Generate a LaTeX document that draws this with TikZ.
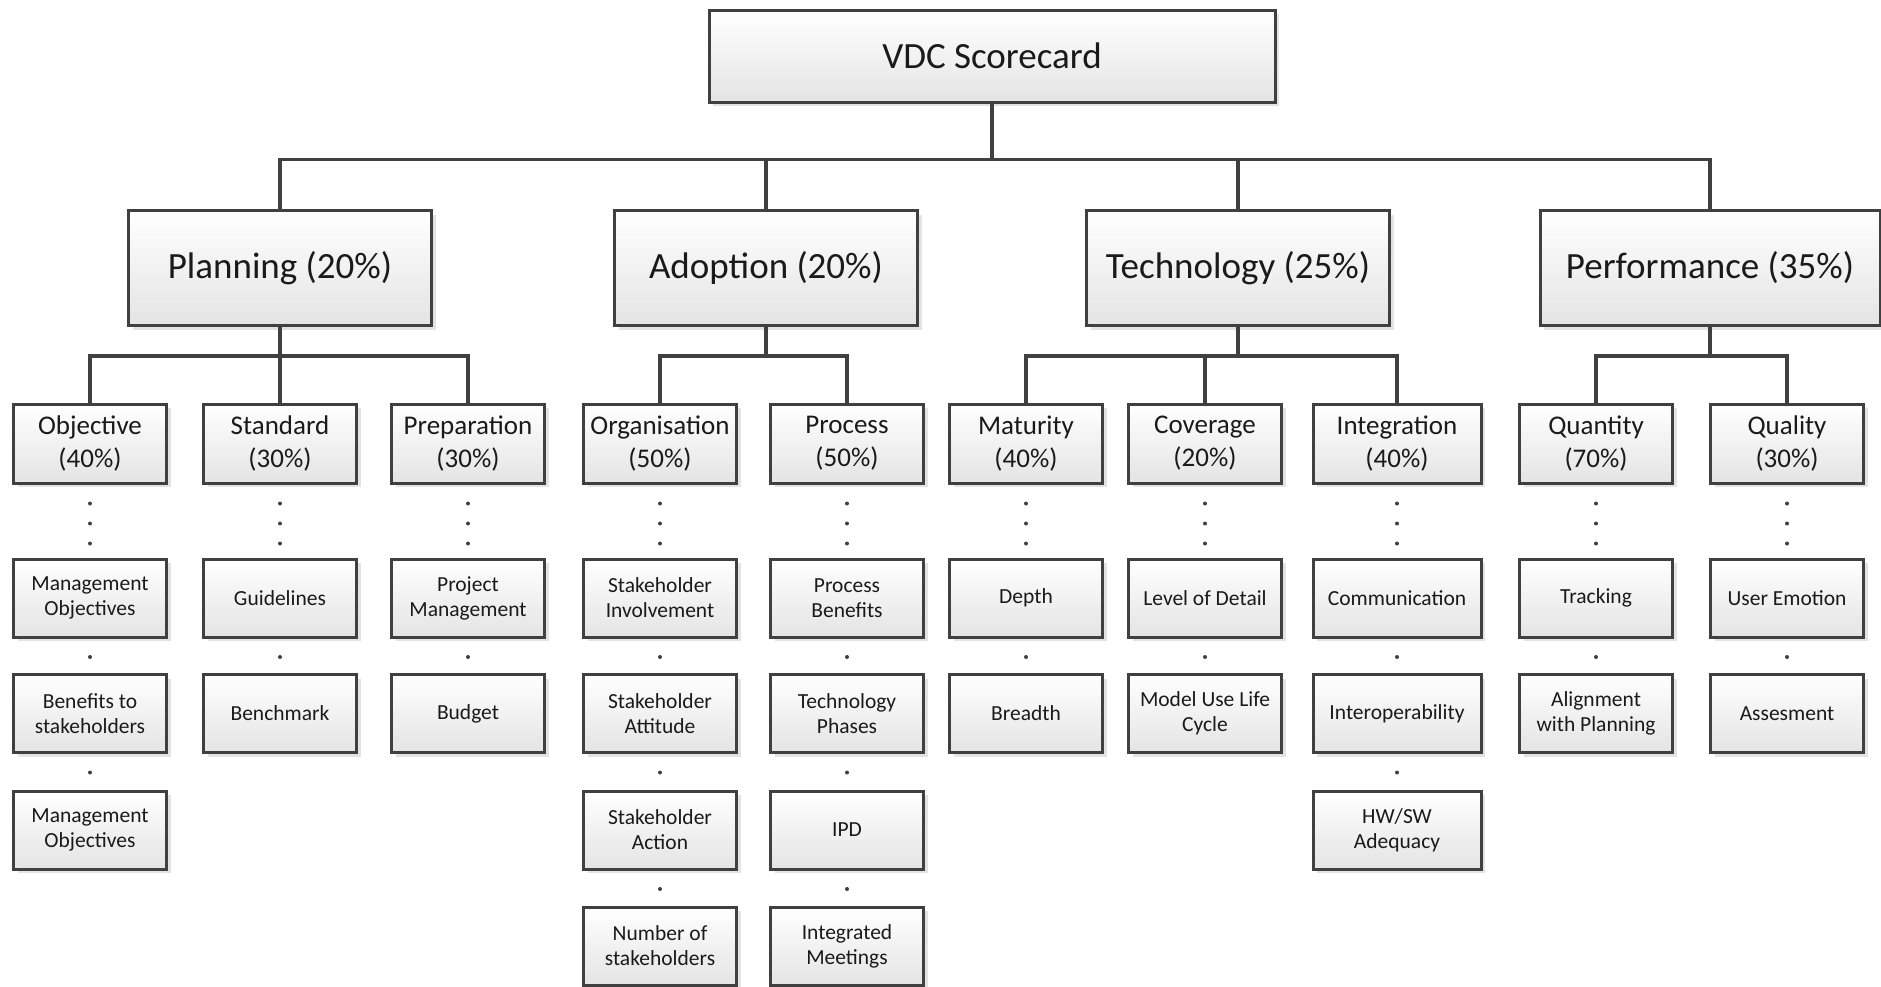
\documentclass[tikz,border=0pt]{standalone}
\usepackage{fontspec}
\setmainfont{Carlito}
\usetikzlibrary{shadows}
\definecolor{edge}{HTML}{404040}
\definecolor{ink}{HTML}{1A1A1A}
\definecolor{boxlow}{HTML}{E4E4E4}
\begin{document}
\begin{tikzpicture}[x=1pt,y=-1pt,
  box/.style={draw=edge, line width=3pt, top color=white, bottom color=boxlow,
    text=ink, align=center, inner sep=0pt,
    drop shadow={shadow xshift=4pt, shadow yshift=-4pt, fill=black!18, opacity=0.6}},
  topbox/.style={box, minimum width=566pt, minimum height=92pt, font=\fontsize{37}{42}\selectfont},
  catbox/.style={box, minimum width=303pt, minimum height=115pt, font=\fontsize{37}{42}\selectfont},
  subbox/.style={box, minimum width=153pt, minimum height=79pt, font=\fontsize{27}{33}\selectfont},
  itembox/.style={box, minimum width=153pt, minimum height=78pt, font=\fontsize{21.5}{25}\selectfont},
  conn/.style={draw=edge, line width=3.5pt},
  threedots/.style={draw=edge, line width=4pt, line cap=round, dash pattern=on 0pt off 20pt, dash phase=1pt},
  onedot/.style={draw=edge, line width=4pt, line cap=round, dash pattern=on 0pt off 100pt, dash phase=81.5pt}]
\useasboundingbox (0,0) rectangle (1881,986);

% root
\node[topbox] (root) at (992,56) {VDC Scorecard};

% categories
\node[catbox] (plan) at (280,268) {Planning (20\%)};
\node[catbox] (adop) at (766,268) {Adoption (20\%)};
\node[catbox] (tech) at (1238,268) {Technology (25\%)};
\node[catbox, minimum width=340pt] (perf) at (1710,268) {Performance (35\%)};

% sub-criteria
\node[subbox] (obj)  at (90,443.5)   {Objective\\(40\%)};
\node[subbox] (std)  at (280,443.5)  {Standard\\(30\%)};
\node[subbox] (prep) at (468,443.5)  {Preparation\\(30\%)};
\node[subbox] (org)  at (660,443.5)  {Organisation\\(50\%)};
\node[subbox] (proc) at (847,443.5)  {Process\\(50\%)};
\node[subbox] (mat)  at (1026,443.5) {Maturity\\(40\%)};
\node[subbox] (cov)  at (1205,443.5) {Coverage\\(20\%)};
\node[subbox, minimum width=168pt] (integ) at (1397,443.5) {Integration\\(40\%)};
\node[subbox] (quan) at (1596,443.5) {Quantity\\(70\%)};
\node[subbox] (qual) at (1787,443.5) {Quality\\(30\%)};

% items
\node[itembox] (obj1) at (90,598)   {Management\\Objectives};
\node[itembox] (obj2) at (90,713.5) {Benefits to\\stakeholders};
\node[itembox] (obj3) at (90,830)   {Management\\Objectives};

\node[itembox] (std1) at (280,598)   {Guidelines};
\node[itembox] (std2) at (280,713.5) {Benchmark};

\node[itembox] (prep1) at (468,598)   {Project\\Management};
\node[itembox] (prep2) at (468,713.5) {Budget};

\node[itembox] (org1) at (660,598)   {Stakeholder\\Involvement};
\node[itembox] (org2) at (660,713.5) {Stakeholder\\Attitude};
\node[itembox] (org3) at (660,830)   {Stakeholder\\Action};
\node[itembox] (org4) at (660,946)   {Number of\\stakeholders};

\node[itembox] (proc1) at (847,598)   {Process\\Benefits};
\node[itembox] (proc2) at (847,713.5) {Technology\\Phases};
\node[itembox] (proc3) at (847,830)   {IPD};
\node[itembox] (proc4) at (847,946)   {Integrated\\Meetings};

\node[itembox] (mat1) at (1026,598)   {Depth};
\node[itembox] (mat2) at (1026,713.5) {Breadth};

\node[itembox] (cov1) at (1205,598)   {Level of Detail};
\node[itembox] (cov2) at (1205,713.5) {Model Use Life\\Cycle};

\node[itembox, minimum width=168pt] (integ1) at (1397,598)   {Communication};
\node[itembox, minimum width=168pt] (integ2) at (1397,713.5) {Interoperability};
\node[itembox, minimum width=168pt] (integ3) at (1397,830)   {HW/SW\\Adequacy};

\node[itembox] (quan1) at (1596,598)   {Tracking};
\node[itembox] (quan2) at (1596,713.5) {Alignment\\with Planning};

\node[itembox] (qual1) at (1787,598)   {User Emotion};
\node[itembox] (qual2) at (1787,713.5) {Assesment};

% tree connectors
\foreach \c in {plan,adop,tech,perf}
  \draw[conn] (root.south) -- ++(0,56) -| (\c.north);
\foreach \c in {obj,std,prep}
  \draw[conn] (plan.south) -- ++(0,29) -| (\c.north);
\foreach \c in {org,proc}
  \draw[conn] (adop.south) -- ++(0,29) -| (\c.north);
\foreach \c in {mat,cov,integ}
  \draw[conn] (tech.south) -- ++(0,29) -| (\c.north);
\foreach \c in {quan,qual}
  \draw[conn] (perf.south) -- ++(0,29) -| (\c.north);

% dotted links from sub-criteria to items
\foreach \c in {obj,std,prep,org,proc,mat,cov,integ,quan,qual}
  \draw[threedots] (\c.south) -- (\c1.north);
\foreach \a/\b in {obj1/obj2,obj2/obj3,std1/std2,prep1/prep2,
                   org1/org2,org2/org3,org3/org4,proc1/proc2,proc2/proc3,proc3/proc4,
                   mat1/mat2,cov1/cov2,integ1/integ2,integ2/integ3,quan1/quan2,qual1/qual2}
  \draw[onedot] (\a.south) -- (\b.north);
\end{tikzpicture}
\end{document}
